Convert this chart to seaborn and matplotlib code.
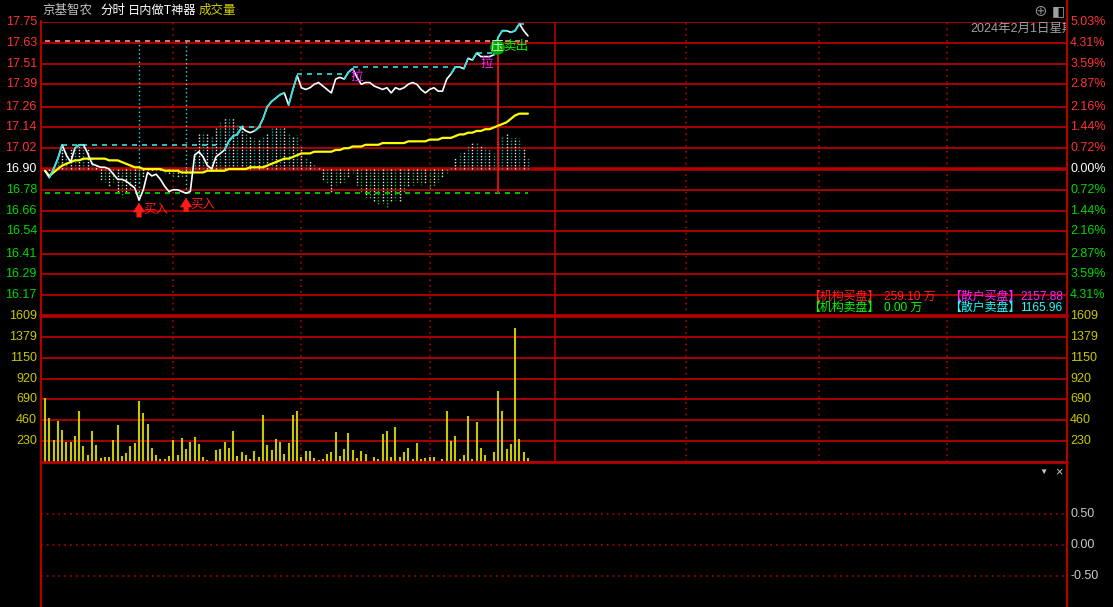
import numpy as np
import pandas as pd
import matplotlib
matplotlib.use('Agg')
import matplotlib.pyplot as plt
from matplotlib.transforms import blended_transform_factory
import seaborn as sns

W, H = 1113, 607

# ---- data ----
pre_close = 16.90

price = [16.89, 16.85, 16.90, 16.96, 17.04, 16.98, 16.94, 17.02, 17.04, 17.04,
         16.99, 16.93, 16.92, 16.91, 16.91, 16.90, 16.87, 16.84, 16.84, 16.83,
         16.81, 16.79, 16.72, 16.78, 16.88, 16.86, 16.87, 16.84, 16.80, 16.77,
         16.78, 16.78, 16.77, 16.76, 16.77, 16.98, 17.00, 16.97, 16.92, 16.90,
         16.97, 16.99, 17.01, 17.06, 17.09, 17.10, 17.14, 17.12, 17.11, 17.12,
         17.14, 17.19, 17.26, 17.29, 17.31, 17.33, 17.34, 17.27, 17.36, 17.44,
         17.37, 17.36, 17.37, 17.39, 17.40, 17.38, 17.36, 17.34, 17.42, 17.43,
         17.42, 17.46, 17.48, 17.43, 17.39, 17.40, 17.40, 17.38, 17.37, 17.36,
         17.37, 17.34, 17.37, 17.36, 17.37, 17.39, 17.40, 17.39, 17.36, 17.34,
         17.36, 17.37, 17.35, 17.35, 17.42, 17.45, 17.49, 17.49, 17.48, 17.54,
         17.53, 17.57, 17.55, 17.55, 17.55, 17.56, 17.66, 17.70, 17.70, 17.69,
         17.70, 17.74, 17.70, 17.67]

avg_price = [16.89, 16.86, 16.88, 16.90, 16.92, 16.93, 16.94, 16.95, 16.95, 16.96,
             16.96, 16.96, 16.96, 16.96, 16.96, 16.95, 16.95, 16.95, 16.94, 16.93,
             16.92, 16.91, 16.91, 16.90, 16.90, 16.90, 16.90, 16.90, 16.89, 16.89,
             16.89, 16.89, 16.88, 16.88, 16.88, 16.88, 16.88, 16.88, 16.89, 16.89,
             16.89, 16.89, 16.89, 16.90, 16.90, 16.90, 16.90, 16.90, 16.91, 16.91,
             16.91, 16.91, 16.92, 16.93, 16.94, 16.95, 16.96, 16.96, 16.97, 16.98,
             16.99, 16.99, 16.99, 17.00, 17.00, 17.00, 17.00, 17.00, 17.01, 17.01,
             17.02, 17.02, 17.03, 17.03, 17.03, 17.04, 17.04, 17.04, 17.04, 17.05,
             17.05, 17.05, 17.05, 17.05, 17.05, 17.06, 17.06, 17.06, 17.06, 17.06,
             17.07, 17.07, 17.07, 17.08, 17.08, 17.08, 17.09, 17.10, 17.10, 17.11,
             17.11, 17.12, 17.12, 17.13, 17.13, 17.14, 17.15, 17.16, 17.17, 17.19,
             17.21, 17.22, 17.22, 17.22]

volume = [702, 481, 242, 452, 353, 220, 220, 287, 562, 176,
          77, 342, 187, 44, 55, 55, 242, 408, 66, 99,
          176, 209, 672, 540, 419, 154, 77, 33, 33, 66,
          242, 77, 264, 143, 220, 276, 198, 55, 22, 11,
          132, 143, 220, 154, 342, 66, 110, 77, 33, 121,
          55, 518, 187, 132, 253, 220, 88, 209, 518, 562,
          55, 121, 121, 44, 22, 33, 88, 110, 331, 66,
          143, 320, 132, 44, 121, 88, 11, 55, 33, 309,
          342, 55, 386, 55, 110, 154, 33, 209, 33, 44,
          55, 55, 11, 33, 562, 231, 287, 33, 77, 507,
          33, 441, 154, 77, 11, 110, 782, 562, 143, 198,
          1477, 253, 110, 44]

# 做T indicator bars around the pre-close line (arbitrary units)
strength = [0, -2, 0, 8, 22, 18, 20, 22, 25, 25,
            20, 12, 5, -11, -13, -18, -13, -23, -28, -24,
            -21, -18, -14, -9, -4, -3, -2, -3, -4, -6,
            -8, -8, -9, -7, -5, 21, 36, 37, 36, 32,
            41, 47, 52, 52, 52, 46, 44, 36, 32, 31,
            29, 32, 36, 41, 42, 41, 42, 36, 32, 34,
            22, 12, 9, 6, 1, -11, -14, -23, -16, -14,
            -13, -8, -4, -16, -23, -28, -29, -33, -36, -34,
            -38, -33, -31, -33, -24, -18, -16, -13, -16, -14,
            -21, -16, -13, -9, -4, 2, 12, 16, 17, 24,
            26, 27, 24, 22, 19, 16, 26, 32, 36, 31,
            31, 31, 21, 11]

price_ticks = [17.75, 17.63, 17.51, 17.39, 17.26, 17.14, 17.02, 16.90,
               16.78, 16.66, 16.54, 16.41, 16.29, 16.17]
pct_labels = ['5.03%', '4.31%', '3.59%', '2.87%', '2.16%', '1.44%', '0.72%', '0.00%',
              '0.72%', '1.44%', '2.16%', '2.87%', '3.59%', '4.31%']
vol_ticks = [1609, 1379, 1150, 920, 690, 460, 230]
ind_ticks = [0.50, 0.00, -0.50]

buy_minutes = [22, 33]
buy_low = [16.72, 16.76]
sell_minute = 106
press_line = 17.64
support_line = 16.76
# cyan "previous high" dashed levels: (level, start minute, end minute)
high_levels = [(17.04, 4, 40), (17.14, 45.5, 50.5), (17.45, 59, 71),
               (17.49, 72, 95.5), (17.57, 101, 105.5), (17.74, 111, 113)]
pull_marks = [(72.9, 17.43), (103.3, 17.51)]

minutes = list(range(len(price)))
df = pd.DataFrame({'minute': minutes, 'price': price, 'avg': avg_price,
                   'volume': volume, 'strength': strength})

# ---- style ----
sns.set_theme(style='dark', rc={'axes.facecolor': 'black', 'figure.facecolor': 'black'})
plt.rcParams['font.family'] = ['Liberation Sans', 'Noto Sans CJK SC', 'DejaVu Sans']

GRID = '#b40000'
RED = '#ff3232'
GREEN = '#00d800'
YEL = '#c8c800'

fig = plt.figure(figsize=(W / 100, H / 100), dpi=100, facecolor='black')


def fx(x):
    return x / W


def fy(y):
    return 1 - y / H


ax = fig.add_axes([fx(41), fy(316), 1025 / W, 294 / H])
axv = fig.add_axes([fx(41), fy(462), 1025 / W, 146 / H])
axi = fig.add_axes([fx(41), 0, 1025 / W, 145 / H])

XL = (-0.94, 238.9)
for a in (ax, axv, axi):
    a.set_facecolor('black')
    a.set_xticks([])
    a.set_yticks([])
    for s in a.spines.values():
        s.set_visible(False)
    a.set_xlim(*XL)

ax.set_ylim(16.05, 17.75)
axv.set_ylim(0, 1609)
axi.set_ylim(-1.0, 1.339)

half_hours = [30, 60, 90, 150, 181, 211]
for a in (ax, axv):
    for m in half_hours:
        a.axvline(m, color=GRID, lw=1.2, ls=(0, (1, 2.5)), zorder=1)
    a.axvline(119.4, color=GRID, lw=1.2, zorder=1)

# ---- price panel ----
for p in price_ticks:
    ax.axhline(p, color=GRID, lw=1.3 if p != pre_close else 2.6, zorder=1)

unit = 0.85 / 147
for i, (m, s) in enumerate(zip(minutes, strength)):
    if s == 0:
        continue
    if s > 0:
        c = '#e6e6e6' if i % 2 == 0 else '#00a8a8'
    else:
        c = '#20c020' if i % 2 == 0 else '#e6e6e6'
    ax.vlines(m, pre_close, pre_close + s * unit, color=c, lw=1.0,
              ls=(0, (1, 1.2)), zorder=2)

ax.hlines(press_line, 0, minutes[-1], color='#ff8a8a', lw=1.2, ls=(0, (3, 3)), zorder=3)
ax.hlines(support_line, 0, minutes[-1], color='#00e000', lw=1.2, ls=(0, (3, 3)), zorder=3)
for lvl, a0, a1 in high_levels:
    ax.hlines(lvl, a0, a1, color='#30e0e0', lw=1.2, ls=(0, (3, 3)), zorder=3)

for m, lo in zip(buy_minutes, buy_low):
    ax.vlines(m, lo, press_line, color='#30e0e0', lw=1.0, ls=(0, (1, 2)), zorder=3)
ax.vlines(sell_minute, support_line, press_line, color='#e81010', lw=1.3, zorder=3)

sns.lineplot(data=df, x='minute', y='avg', ax=ax, color='#ffff00', lw=1.6,
             estimator=None, zorder=4)
sns.lineplot(data=df, x='minute', y='price', ax=ax, color='white', lw=1.2,
             estimator=None, zorder=5)
run_max = price[0]
for i in range(1, len(price)):
    if price[i] >= run_max:
        ax.plot([i - 1, i], [price[i - 1], price[i]], color='#30e0e0', lw=1.2, zorder=6)
    run_max = max(run_max, price[i])
ax.set(xlabel='', ylabel='')

# buy arrows
arrow_tips = [16.702, 16.731]
arrow_tails = [16.622, 16.655]
text_y = [16.663, 16.692]
for m, tip, tail, ty in zip(buy_minutes, arrow_tips, arrow_tails, text_y):
    ax.annotate('', xy=(m, tip), xytext=(m, tail),
                arrowprops=dict(arrowstyle='simple,head_width=0.9,head_length=0.7,tail_width=0.35',
                                fc='#ff1a1a', ec='#ff1a1a', lw=0.5, mutation_scale=9,
                                shrinkA=0, shrinkB=0), zorder=7)
    ax.text(m + 0.9, ty, '买入', color='#ff1a1a', fontsize=9, va='center', ha='left', zorder=7)

for m, y in pull_marks:
    ax.text(m, y, '拉', color='#ff20ff', fontsize=9, ha='center', va='center', zorder=7)

ax.plot(sell_minute - 0.3, 17.608, marker='o', ms=9.5, color='#00a800', zorder=7)
ax.text(sell_minute - 0.3, 17.608, '压', color='#c8ffc8', fontsize=9,
        ha='center', va='center', zorder=8)
ax.text(sell_minute + 1.2, 17.608, '卖出', color='#00ff00', fontsize=9,
        ha='left', va='center', zorder=8)

# axis labels
tp = blended_transform_factory(ax.transAxes, ax.transData)
for p, lab in zip(price_ticks, pct_labels):
    c = RED if p > pre_close else ('white' if p == pre_close else GREEN)
    ax.text(-0.004, p, f'{p:.2f}', transform=tp, ha='right', va='center',
            color=c, fontsize=9, clip_on=False)
    ax.text(1.004, p, lab, transform=tp, ha='left', va='center',
            color=c, fontsize=9, clip_on=False)

# info texts inside price panel (clipped to the panel)
ax.text(fx(970), fy(29), '2024年2月1日星期', transform=fig.transFigure,
        color='#a0a0a0', fontsize=9, va='center', clip_on=True)
rows = [(808, 297, '【机构买盘】', '#ff2020'), (884, 297, '259.10 万', '#ff2020'),
        (949, 297, '【散户买盘】', '#ff20ff'), (1020, 297, '2157.88', '#ff20ff'),
        (808, 308, '【机构卖盘】', '#00ff00'), (884, 308, '0.00 万', '#00ff00'),
        (949, 308, '【散户卖盘】', '#20ffff'), (1020, 308, '1165.96', '#20ffff')]
for x, y, t, c in rows:
    ax.text(fx(x), fy(y), t, transform=fig.transFigure, color=c, fontsize=8.6,
            va='center', clip_on=True, zorder=9)

# ---- volume panel ----
for v in vol_ticks:
    axv.axhline(v, color=GRID, lw=1.3, zorder=1)
axv.vlines(df['minute'], 0, df['volume'], color=YEL, lw=1.5, zorder=3)
tv = blended_transform_factory(axv.transAxes, axv.transData)
for v in vol_ticks:
    axv.text(-0.004, v, str(v), transform=tv, ha='right', va='center',
             color=YEL, fontsize=9, clip_on=False)
    axv.text(1.004, v, str(v), transform=tv, ha='left', va='center',
             color=YEL, fontsize=9, clip_on=False)

# ---- indicator panel ----
ti = blended_transform_factory(axi.transAxes, axi.transData)
for v in ind_ticks:
    axi.axhline(v, color=GRID, lw=1.2, ls=(0, (1, 2.5)), zorder=1)
    axi.text(1.004, v, f'{v:.2f}', transform=ti, ha='left', va='center',
             color='#c8c8c8', fontsize=9, clip_on=False)

# ---- frame & titles ----
fig.add_artist(plt.Line2D([fx(41), fx(41)], [fy(21), 0], color=GRID, lw=1.5))
fig.add_artist(plt.Line2D([fx(1066.5), fx(1066.5)], [1, 0], color=GRID, lw=1.5))
fig.add_artist(plt.Line2D([fx(41), fx(1066.5)], [fy(316), fy(316)], color=GRID, lw=2.6))
fig.add_artist(plt.Line2D([fx(41), fx(1066.5)], [fy(462), fy(462)], color=GRID, lw=2.0))

fig.text(fx(42), fy(11), '京基智农', color='#c0c0c0', fontsize=9, va='center')
fig.text(fx(100), fy(11), '分时', color='white', fontsize=9, va='center')
fig.text(fx(128), fy(11), '日内做T神器', color='white', fontsize=8.8, va='center')
fig.text(fx(199), fy(11), '成交量', color='#d0d000', fontsize=9, va='center')

fig.text(fx(1040), fy(11), '⊕', color='#a0a0a0', fontsize=10, ha='center', va='center')
fig.text(fx(1058), fy(11), '◧', color='#a0a0a0', fontsize=10, ha='center', va='center')
fig.text(fx(1043), fy(472), '▼', color='#c8c8c8', fontsize=6, ha='center', va='center')
fig.text(fx(1059), fy(472), '×', color='#c8c8c8', fontsize=9, ha='center', va='center')

fig.savefig('out.png', dpi=100, facecolor='black')
